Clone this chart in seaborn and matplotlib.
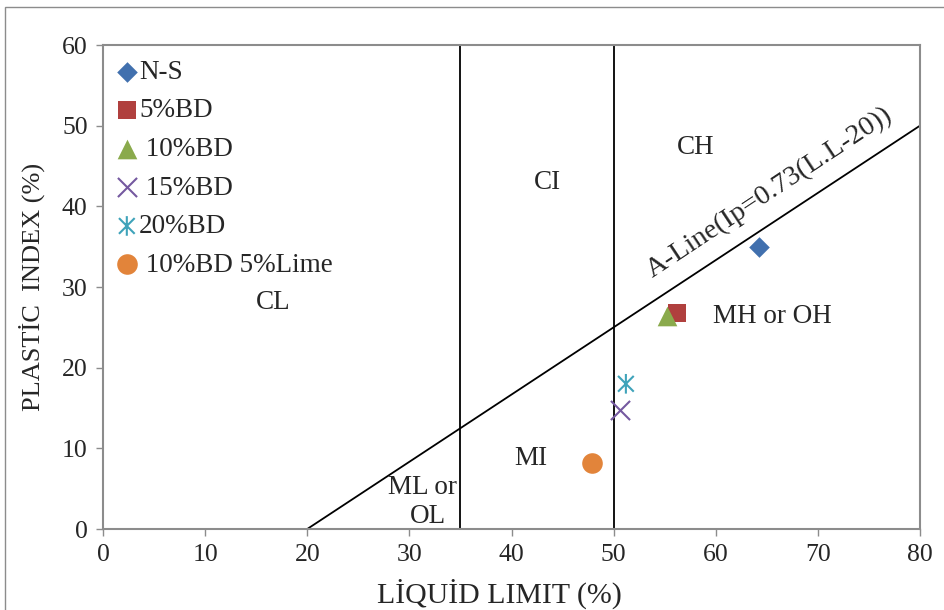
import matplotlib
matplotlib.use("Agg")
import matplotlib.pyplot as plt
import seaborn as sns
import pandas as pd
from matplotlib.path import Path
from matplotlib.patches import Rectangle

# data
series = ["N-S", "5%BD", " 10%BD", " 15%BD", "20%BD", " 10%BD 5%Lime"]
liquid_limit = [64.2, 56.2, 55.2, 50.6, 51.2, 47.9]
plastic_index = [35.0, 26.8, 26.4, 14.7, 18.0, 8.2]
colors = ["#4170AE", "#B0403E", "#8AAA4C", "#7559A0", "#3FA3BA", "#E2843A"]

aline_x = [20, 80]
aline_y = [0, 50]
vline_x = [35, 50]

zone_labels = ["CL", "CI", "CH", "MH or OH", "MI", "ML or", "OL"]
zone_x = [16.7, 43.5, 58.0, 65.5, 41.9, 31.3, 31.8]
zone_y = [28.1, 42.9, 47.3, 26.3, 8.8, 5.1, 1.6]

df = pd.DataFrame({"LL": liquid_limit, "PI": plastic_index, "Sample": series})

sns.set_style("white")
plt.rcParams["font.family"] = ["Liberation Serif", "DejaVu Serif"]

fig = plt.figure(figsize=(9.44, 6.10), dpi=100)
ax = fig.add_axes([103 / 944, 81 / 610, 817 / 944, 484 / 610])

# outer chart border
fig.patches.append(Rectangle((5 / 944, -0.2), 1.2, (603 + 0.2 * 610) / 610,
                             transform=fig.transFigure, fill=False,
                             edgecolor="#8c8c8c", linewidth=1.0))

# classification lines
ax.plot(aline_x, aline_y, color="black", linewidth=1.3)
for xv in vline_x:
    ax.plot([xv, xv], [0, 60], color="black", linewidth=1.3)

# excel-like star: vertical bar plus a cross
star = Path([(0, -1), (0, 1), (-0.8, -0.8), (0.8, 0.8), (-0.8, 0.8), (0.8, -0.8)],
            [Path.MOVETO, Path.LINETO, Path.MOVETO, Path.LINETO, Path.MOVETO, Path.LINETO])
markers = ["D", "s", "^", "x", star, "o"]
sizes = [110, 170, 200, 190, 200, 220]

for i, name in enumerate(series):
    sub = df[df["Sample"] == name]
    if markers[i] == "x":
        sns.scatterplot(data=sub, x="LL", y="PI", ax=ax, marker="x", s=sizes[i],
                        color=colors[i], linewidth=1.5, label=name, zorder=3)
    elif markers[i] is star:
        sns.scatterplot(data=sub, x="LL", y="PI", ax=ax, marker=star, s=sizes[i],
                        facecolor="none", edgecolor=colors[i], linewidth=1.5,
                        label=name, zorder=3)
    else:
        sns.scatterplot(data=sub, x="LL", y="PI", ax=ax, marker=markers[i], s=sizes[i],
                        color=colors[i], edgecolor=colors[i], linewidth=0, label=name, zorder=3)

for t, x, y in zip(zone_labels, zone_x, zone_y):
    ax.text(x, y, t, fontsize=19.5, ha="center", va="center")
ax.text(65.3, 41.7, "A-Line(Ip=0.73(L.L-20))", fontsize=20.5, rotation=33.5,
        rotation_mode="anchor", ha="center", va="center")

ax.set_xlim(0, 80)
ax.set_ylim(0, 60)
ax.set_xticks(range(0, 81, 10))
ax.set_yticks(range(0, 61, 10))
ax.tick_params(axis="both", labelsize=18.5, direction="out", length=5, width=1,
               color="#8c8c8c", pad=6)
ax.tick_params(axis="x", bottom=True)
ax.tick_params(axis="y", left=True)
for sp in ax.spines.values():
    sp.set_color("#8c8c8c")
    sp.set_linewidth(1.5)
    sp.set_visible(True)

ax.set_xlabel("LİQUİD LIMIT (%)", fontsize=21.5, labelpad=9, x=0.485)
ax.set_ylabel("PLASTİC  INDEX (%)", fontsize=19, labelpad=12)

ax.legend(loc="upper left", frameon=False, fontsize=19.5, handletextpad=0.0,
          labelspacing=0.5, borderaxespad=0.1, borderpad=0.45, handlelength=0.9,
          bbox_to_anchor=(-0.004, 1.0))

fig.savefig("out.png", dpi=100)
